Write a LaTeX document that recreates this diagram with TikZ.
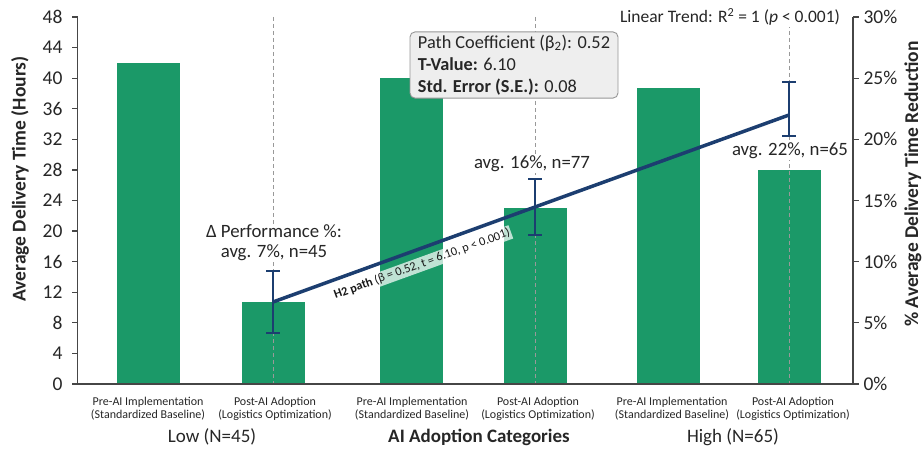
\documentclass[tikz,border=0pt]{standalone}
\usepackage{fontspec}
\setmainfont{Carlito}
\definecolor{barg}{RGB}{27,153,104}
\definecolor{navy}{RGB}{28,62,112}
\definecolor{axisc}{RGB}{70,70,70}
\definecolor{boxfill}{RGB}{238,238,238}
\definecolor{boxline}{RGB}{150,150,150}
\tikzset{
  bar/.style={fill=barg},
  guide/.style={draw=gray!80, line width=0.9pt, dash pattern=on 4pt off 3pt},
  axisline/.style={draw=axisc, line width=1.2pt},
  ticklab/.style={font=\fontsize{19.5}{22}\selectfont, text=black!85},
  catlab/.style={font=\fontsize{12}{13}\selectfont, align=center, text=black!85, inner sep=0pt},
  grouplab/.style={font=\fontsize{19}{22}\selectfont, text=black!85},
  annot/.style={font=\fontsize{18.8}{20}\selectfont, fill=white, inner sep=1pt, text=black!85, align=center},
  trend/.style={draw=navy, line width=3.5pt},
  errbar/.style={draw=navy, line width=2.4pt},
  infobox/.style={draw=boxline, fill=boxfill, rounded corners=5pt, line width=0.9pt, align=left,
    font=\fontsize{18.3}{22}\selectfont, inner xsep=6pt, inner ysep=3pt, text=black!85, minimum width=208pt}
}
\begin{document}
\begin{tikzpicture}[x=1pt,y=-1pt]
\useasboundingbox (0,0) rectangle (924,452);
% bars
\foreach \cx/\v in {148.5/42, 273.5/10.7, 411.5/40, 535/23, 668.5/38.7, 789/28}
  \fill[bar] ({\cx-31.5},384) rectangle ({\cx+31.5},{384-\v*7.646});
% guide lines
\foreach \gx in {273, 535, 789}
  \draw[guide] (\gx,17) -- (\gx,384);
% axes
\coordinate (o) at (77.5,384);
\coordinate (lt) at (77.5,17);
\coordinate (r0) at (853,384);
\coordinate (rt) at (853,17);
\draw[axisline] (lt) -- (o) -- (r0) -- (rt);
\foreach \v in {0,4,...,48} {
  \draw[axisline] (72,{384-\v*7.646}) -- (77.5,{384-\v*7.646});
  \node[ticklab, anchor=east] at (66,{384-\v*7.646}) {\v};
}
\foreach \p in {0,5,...,30} {
  \draw[axisline] (853,{384-\p*12.233}) -- (858.5,{384-\p*12.233});
  \node[ticklab, anchor=west] at (860,{384-\p*12.233}) {\p\%};
}
\node[font=\bfseries\fontsize{19.5}{20}\selectfont, rotate=90, text=black!85] (ytitle) at (20,179) {Average Delivery Time (Hours)};
\node[font=\bfseries\fontsize{19.5}{20}\selectfont, rotate=90, text=black!85] (y2title) at (913,184) {\% Average Delivery Time Reduction};
% trend
\coordinate (pl) at (273,302);
\coordinate (pm) at (535,207);
\coordinate (ph) at (789,115);
\draw[trend] (pl) -- (pm) -- (ph);
\foreach \ex/\ya/\yb in {273/271/333, 535/179/235, 789/82/136} {
  \draw[errbar] (\ex,\ya) -- (\ex,\yb);
  \draw[errbar] ({\ex-7},\ya) -- ({\ex+7},\ya);
  \draw[errbar] ({\ex-7},\yb) -- ({\ex+7},\yb);
}
\node[rotate=19.9, font=\fontsize{12.3}{14}\selectfont, fill=white, fill opacity=0.72, text opacity=1, inner sep=1.5pt, text=black!90] (h2) at (422,264) {\textbf{H2 path} (β = 0.52, t = 6.10, p < 0.001)};
% annotations
\node[annot] (al) at (274,243) {Δ Performance \%:\\avg. 7\%, n=45};
\node[annot] (am) at (532,164) {avg. 16\%, n=77};
\node[annot] (ah) at (790,151) {avg. 22\%, n=65};
\node[annot, font=\fontsize{17.5}{18}\selectfont] (lin) at (730,17) {Linear Trend: R\textsuperscript{2} = 1 (\textit{p} < 0.001)};
\node[infobox] (info) at (514,65) {Path Coefficient (β\textsubscript{2}): 0.52\\\textbf{T-Value:} 6.10\\\textbf{Std. Error (S.E.):} 0.08};
% category labels
\foreach \cx/\ta/\tb in {148/Pre-AI Implementation/(Standardized Baseline), 275/Post-AI Adoption/(Logistics Optimization), 412/Pre-AI Implementation/(Standardized Baseline), 538/Post-AI Adoption/(Logistics Optimization), 672/Pre-AI Implementation/(Standardized Baseline), 793/Post-AI Adoption/(Logistics Optimization)}
  \node[catlab] at (\cx,409) {\ta\\\tb};
\node[grouplab] (low) at (212,437) {Low (N=45)};
\node[grouplab, font=\bfseries\fontsize{19}{22}\selectfont] (cat) at (479,437) {AI Adoption Categories};
\node[grouplab] (high) at (733,437) {High (N=65)};
\end{tikzpicture}
\end{document}
